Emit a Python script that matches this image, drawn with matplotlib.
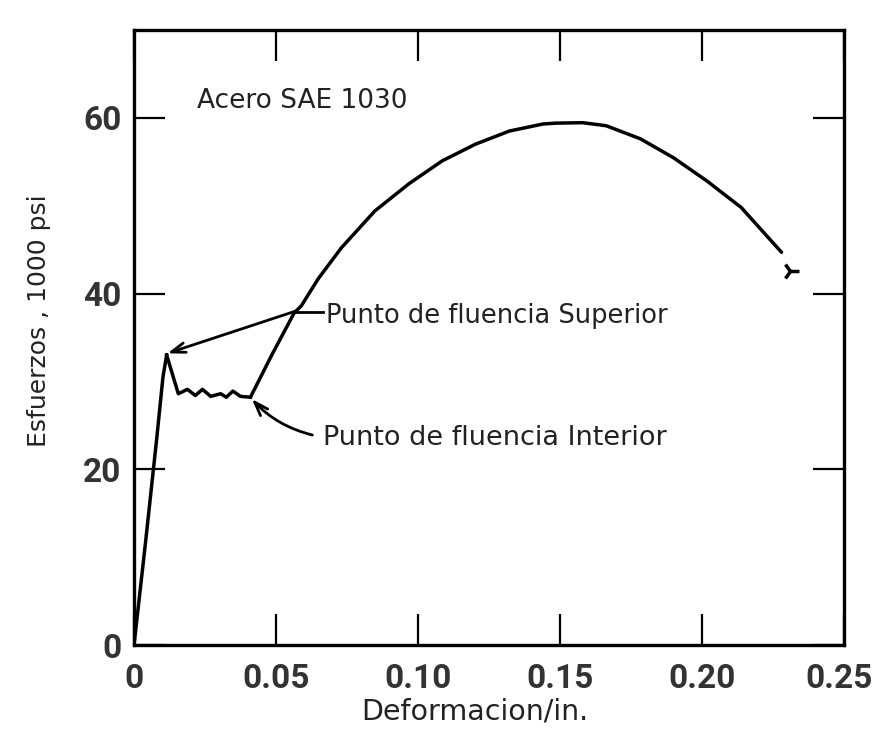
import matplotlib
matplotlib.use("Agg")
import matplotlib.pyplot as plt
from matplotlib.transforms import ScaledTranslation

# stress-strain curve, SAE 1030 steel
elastic_x = [0.0, 0.004, 0.008, 0.0102, 0.0115]
elastic_y = [0.0, 11.5, 23.5, 30.5, 33.0]

yield_x = [0.0115, 0.0156, 0.0188, 0.0216, 0.0241, 0.027, 0.0305, 0.0325, 0.0348, 0.0375, 0.041]
yield_y = [33.0, 28.6, 29.1, 28.4, 29.1, 28.3, 28.6, 28.2, 28.9, 28.3, 28.2]

hard_x = [0.041, 0.0485, 0.0564, 0.0589, 0.0649, 0.073, 0.0848, 0.0968, 0.1085, 0.1202,
          0.1322, 0.144, 0.1486, 0.158, 0.1663, 0.1784, 0.19, 0.2018, 0.2138, 0.228]
hard_y = [28.2, 33.0, 37.8, 38.6, 41.7, 45.2, 49.4, 52.5, 55.1, 57.0,
          58.5, 59.3, 59.4, 59.45, 59.1, 57.6, 55.45, 52.8, 49.8, 44.7]

break_x = 0.2309
break_y = 42.6

x_ticks = [0, 0.05, 0.10, 0.15, 0.20, 0.25]
x_labels = ["0", "0.05", "0.10", "0.15", "0.20", "0.25"]
y_ticks = [0, 20, 40, 60]
y_labels = ["0", "20", "40", "60"]

tick_font = ["Roboto", "DejaVu Sans"]

fig = plt.figure(figsize=(8.75, 7.37), dpi=100)
ax = fig.add_axes((134 / 875, 1 - 645 / 737, 710 / 875, 615 / 737))

lw = 2.5
ax.plot(elastic_x, elastic_y, color="black", lw=lw, solid_joinstyle="round")
ax.plot(yield_x, yield_y, color="black", lw=lw, solid_joinstyle="round")
ax.plot(hard_x, hard_y, color="black", lw=lw, solid_joinstyle="round",
        solid_capstyle="round")
ax.plot([break_x], [break_y], marker="4", color="black", ms=13, mew=2.5)

ax.set_xlim(0, 0.25)
ax.set_ylim(0, 70)
ax.set_xticks(x_ticks)
ax.set_xticklabels(x_labels)
ax.set_yticks(y_ticks)
ax.set_yticklabels(y_labels)
ax.tick_params(direction="in", length=22, width=1.6, top=True, right=True,
               labelsize=24, pad=9, colors="black")
ax.tick_params(axis="x", pad=13)
for lab in ax.get_xticklabels() + ax.get_yticklabels():
    lab.set_family(tick_font)
    lab.set_fontweight("bold")
    lab.set_color("#333333")
# keep the last x label inside the picture
last = ax.get_xticklabels()[-1]
last.set_transform(last.get_transform() + ScaledTranslation(-5 / 100, 0, fig.dpi_scale_trans))
for s in ax.spines.values():
    s.set_linewidth(2.4)

ax.set_xlabel("Deformacion/in.", fontsize=20.5, color="#222222")
ax.xaxis.set_label_coords((475 - 134) / 710, -0.085)
fig.text(0.045, 0.565, "Esfuerzos , 1000 psi", rotation=90, fontsize=18,
         color="#222222", ha="center", va="center")

ax.text(0.0223, 61.9, "Acero SAE 1030", fontsize=19, color="#222222", va="center")

# upper yield point
ax.text(0.0677, 37.4, "Punto de fluencia Superior", fontsize=18.5, color="#222222",
        va="center")
ax.plot([0.0564, 0.0665], [37.95, 37.95], color="black", lw=2)
ax.annotate("", xy=(0.0118, 33.2), xytext=(0.0564, 37.95),
            arrowprops=dict(arrowstyle="->,head_length=1.0,head_width=0.35",
                            color="black", lw=2, shrinkA=0, shrinkB=0))

# lower yield point
ax.text(0.0667, 23.6, "Punto de fluencia Interior", fontsize=19.5, color="#222222",
        va="center")
ax.annotate("", xy=(0.0415, 28.0), xytext=(0.0628, 23.9),
            arrowprops=dict(arrowstyle="->,head_length=1.0,head_width=0.35",
                            color="black", lw=2, shrinkA=0, shrinkB=0,
                            connectionstyle="arc3,rad=-0.15"))

fig.savefig("out.png", dpi=100, facecolor="white")
